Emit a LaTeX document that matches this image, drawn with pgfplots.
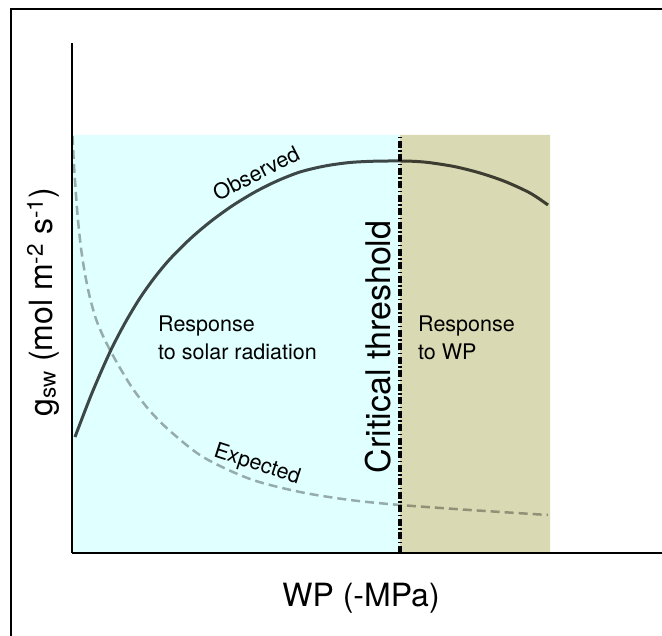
\documentclass[border=0pt]{standalone}
\usepackage{pgfplots}
\pgfplotsset{compat=1.18}
\usepackage{fontspec}
\setmainfont{TeX Gyre Heros}

\definecolor{solarbg}{RGB}{224,255,255}
\definecolor{wpbg}{RGB}{217,217,179}

\begin{document}
\begin{tikzpicture}[x=1pt,y=1pt]
\useasboundingbox (0,0) rectangle (662,636);
% outer frame
\draw[line width=1.3pt] (11,627) rectangle (720,-40);

\begin{axis}[
  at={(72pt,83pt)}, anchor=south west,
  scale only axis, width=590pt, height=510pt,
  xmin=0, xmax=590, ymin=0, ymax=510,
  axis x line=bottom, axis y line=left,
  axis line style={-, line width=1.3pt},
  ticks=none, axis on top, clip=false,
]
% shaded regimes
\addplot[draw=none, fill=solarbg] coordinates {(0,0) (0,418) (328,418) (328,0)} \closedcycle;
\addplot[draw=none, fill=wpbg] coordinates {(328,0) (328,418) (478,418) (478,0)} \closedcycle;

% expected conductance
\addplot[black, opacity=0.33, line width=2.5pt, dash pattern=on 9pt off 5pt, smooth] coordinates {
  (0.5,417) (2,388) (4,358) (6,333) (9,305) (13,279) (18,255) (24,234)
  (31,217) (38,203) (48,185) (61,164) (78,142) (98,122) (131,96) (178,74)
  (228,61) (278,53) (328,48) (398,43) (476,38)
};

% observed conductance
\addplot[black, opacity=0.72, line width=3pt, smooth] coordinates {
  (3,116) (20,160) (38,201) (53,230) (68,255) (83,276) (98,294) (118,314)
  (138,331) (160,347) (183,361) (205,372) (228,381) (253,387) (278,390.5)
  (303,391.8) (328,392) (343,391.6) (358,390.3) (383,386.3) (408,380)
  (433,371.5) (458,360) (476,348)
};

% critical threshold
\addplot[black, line width=4pt, dash pattern=on 7pt off 2.5pt on 1.5pt off 2.5pt] coordinates {(328,0) (328,418)};
\end{axis}

\node[rotate=27, font=\fontsize{21.5}{26}\selectfont] at (256,463) {Observed};
\node[rotate=-18, font=\fontsize{21.5}{26}\selectfont] at (257,171) {Expected};
\node[anchor=base west, inner sep=0pt, font=\fontsize{21.5}{26}\selectfont] at (158,304) {Response};
\node[anchor=base west, inner sep=0pt, font=\fontsize{21.5}{26}\selectfont] at (158,276) {to solar radiation};
\node[anchor=base west, inner sep=0pt, font=\fontsize{21.5}{26}\selectfont] at (418,304) {Response};
\node[anchor=base west, inner sep=0pt, font=\fontsize{21.5}{26}\selectfont] at (418,276) {to WP};
\node[rotate=90, anchor=base, inner sep=0pt, font=\fontsize{34}{40}\selectfont] at (390,289) {Critical threshold};
\node[anchor=base, inner sep=0pt, font=\fontsize{32}{38}\selectfont] at (361,29) {WP (-MPa)};
\node[rotate=90, anchor=base, inner sep=0pt, font=\fontsize{32}{38}\selectfont] at (52,334)
  {g\textsubscript{sw} (mol m\textsuperscript{-2} s\textsuperscript{-1})};
\end{tikzpicture}
\end{document}
